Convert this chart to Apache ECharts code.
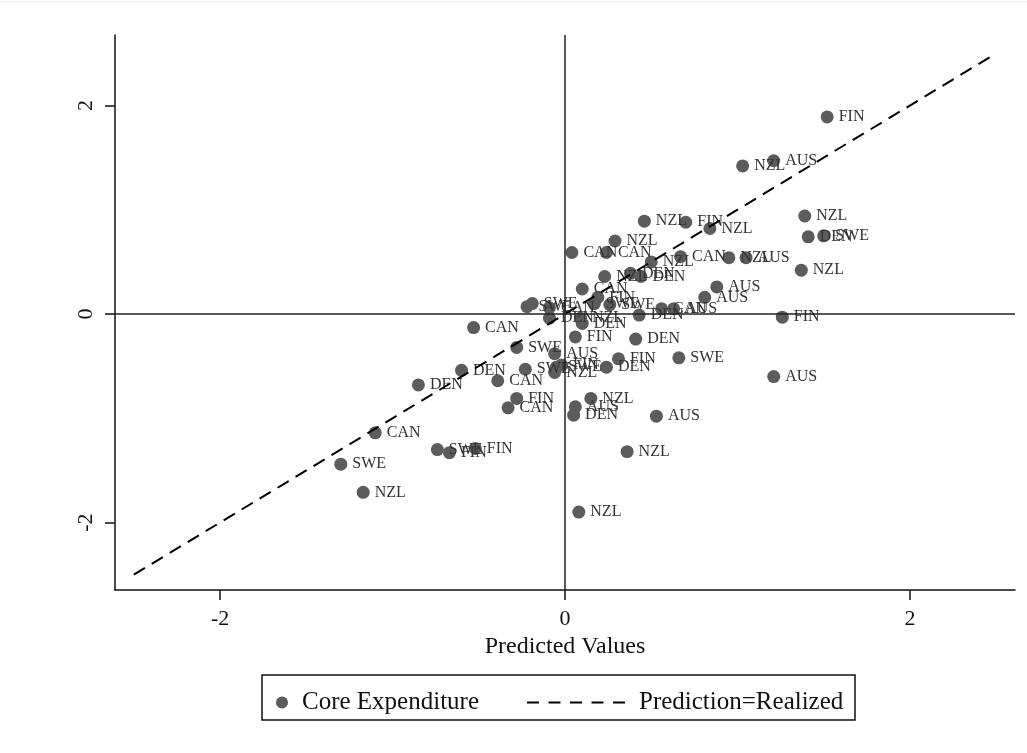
<!DOCTYPE html>
<html>
<head>
<meta charset="utf-8">
<title>Core Expenditure: Predicted vs Realized</title>
<script src="https://cdn.jsdelivr.net/npm/echarts@6/dist/echarts.min.js"></script>
<style>
  html, body { margin: 0; padding: 0; background: #fff; }
  #chart { width: 1027px; height: 753px; }
</style>
</head>
<body>
<div id="chart"></div>
<script>
// Country code for each observation
const countries = [
  'FIN','NZL','AUS','NZL','FIN','NZL','NZL','CAN','CAN','NZL',
  'CAN','NZL','AUS','NZL','DEN','SWE','NZL','NZL','DEN','DEN',
  'CAN','FIN','SWE','SWE','AUS','AUS','DEN','CAN','AUS','FIN',
  'SWE','SWE','CAN','DEN','NZL','DEN','CAN','FIN','DEN','SWE',
  'AUS','SWE','AUS','DEN','SWE','SWE','FIN','NZL','FIN','DEN',
  'CAN','DEN','FIN','CAN','NZL','AUS','DEN','AUS','CAN','SWE',
  'FIN','FIN','NZL','SWE','NZL','NZL'
];
// Predicted values (x)
const predicted = [
  1.52, 1.03, 1.21, 0.46, 0.70, 0.84, 0.29, 0.04, 0.24, 0.50,
  0.67, 0.95, 1.05, 1.39, 1.41, 1.50, 1.37, 0.23, 0.38, 0.44,
  0.10, 0.19, 0.17, 0.26, 0.88, 0.81, 0.43, 0.56, 0.63, 1.26,
  -0.22, -0.19, -0.09, -0.09, 0.09, 0.10, -0.53, 0.06, 0.41, -0.28,
  -0.06, 0.66, 1.21, -0.60, -0.23, -0.05, -0.02, -0.06, 0.31, 0.24,
  -0.39, -0.85, -0.28, -0.33, 0.15, 0.06, 0.05, 0.53, -1.10, -0.74,
  -0.67, -0.52, 0.36, -1.30, -1.17, 0.08
];
// Realized core expenditure (y)
const realized = [
  1.89, 1.42, 1.47, 0.89, 0.88, 0.82, 0.70, 0.59, 0.59, 0.50,
  0.55, 0.54, 0.54, 0.94, 0.74, 0.75, 0.42, 0.36, 0.39, 0.36,
  0.24, 0.16, 0.10, 0.09, 0.26, 0.16, -0.01, 0.05, 0.05, -0.03,
  0.07, 0.10, 0.06, -0.04, -0.04, -0.09, -0.13, -0.22, -0.24, -0.32,
  -0.38, -0.42, -0.60, -0.54, -0.53, -0.51, -0.49, -0.56, -0.43, -0.51,
  -0.64, -0.68, -0.81, -0.90, -0.81, -0.89, -0.97, -0.98, -1.14, -1.30,
  -1.33, -1.29, -1.32, -1.44, -1.71, -1.90
];
// 45-degree line: prediction equals realization
const identityLine = [[-2.5, -2.5], [2.5, 2.5]];
const xTicks = [-2, 0, 2];
const yTicks = [-2, 0, 2];

const FONT = '"Liberation Serif", "Times New Roman", serif';
const points = predicted.map((x, i) => ({ value: [x, realized[i]], name: countries[i] }));

// five-dash legend key for the dashed identity line
const DASH_ICON = 'path://M0,0H12V2H0Z M21.5,0H33.5V2H21.5Z M43,0H55V2H43Z M64.5,0H76.5V2H64.5Z M86,0H98V2H86Z';

const chart = echarts.init(document.getElementById('chart'), null, { renderer: 'canvas' });
chart.setOption({
  backgroundColor: '#fff',
  animation: false,
  textStyle: { fontFamily: FONT },
  grid: { left: 115, right: 12, top: 35, bottom: 163 },
  xAxis: {
    type: 'value',
    min: -2.609, max: 2.609,
    name: 'Predicted Values',
    nameLocation: 'middle',
    nameGap: 45,
    nameTextStyle: { fontFamily: FONT, fontSize: 24, color: '#111' },
    axisLine: { onZero: false, lineStyle: { color: '#111', width: 1.5 } },
    axisTick: { show: true, inside: false, length: 10, lineStyle: { color: '#111', width: 1.5 }, customValues: xTicks },
    axisLabel: { fontFamily: FONT, fontSize: 22, color: '#111', margin: 18, customValues: xTicks },
    splitLine: { show: false }
  },
  yAxis: {
    type: 'value',
    min: -2.647, max: 2.676,
    axisLine: { onZero: false, lineStyle: { color: '#111', width: 1.5 } },
    axisTick: { show: true, inside: false, length: 10, lineStyle: { color: '#111', width: 1.5 }, customValues: yTicks },
    axisLabel: { fontFamily: FONT, fontSize: 22, color: '#111', margin: 18, rotate: 90, customValues: yTicks },
    splitLine: { show: false }
  },
  legend: [
    {
      left: 271, top: 685,
      itemWidth: 30, itemHeight: 12,
      data: [{ name: 'Core Expenditure', icon: 'circle' }],
      textStyle: { fontFamily: FONT, fontSize: 25, color: '#111' }
    },
    {
      left: 522, top: 685,
      itemWidth: 98, itemHeight: 2,
      symbolKeepAspect: false,
      data: [{ name: 'Prediction=Realized', icon: DASH_ICON, itemStyle: { color: '#000' } }],
      textStyle: { fontFamily: FONT, fontSize: 25, color: '#111', padding: [0, 0, 0, 9] }
    }
  ],
  graphic: [
    {
      type: 'rect', silent: true,
      shape: { x: 262, y: 675, width: 593, height: 45 },
      style: { fill: 'none', stroke: '#111', lineWidth: 1.5 }
    },
    {
      type: 'line', silent: true,
      shape: { x1: 0, y1: 1.5, x2: 1027, y2: 1.5 },
      style: { stroke: '#ececec', lineWidth: 1 }
    }
  ],
  series: [
    {
      // zero reference lines
      name: 'zero', type: 'scatter', data: [], z: 1, silent: true,
      markLine: {
        silent: true, symbol: 'none', animation: false,
        label: { show: false },
        lineStyle: { color: '#222', width: 1.5, type: 'solid' },
        data: [{ xAxis: 0 }, { yAxis: 0 }]
      }
    },
    {
      name: 'Core Expenditure', type: 'scatter', z: 2,
      symbol: 'circle', symbolSize: 13,
      itemStyle: { color: '#5c5c5c', opacity: 1 },
      label: {
        show: true, position: 'right', distance: 5,
        formatter: p => p.name,
        fontFamily: FONT, fontSize: 16, color: '#333'
      },
      data: points
    },
    {
      name: 'Prediction=Realized', type: 'line', z: 3,
      showSymbol: false, symbol: 'none', silent: true,
      lineStyle: { color: '#000', width: 2, type: [13, 8] },
      itemStyle: { color: '#000' },
      data: identityLine
    }
  ]
});
</script>
</body>
</html>
